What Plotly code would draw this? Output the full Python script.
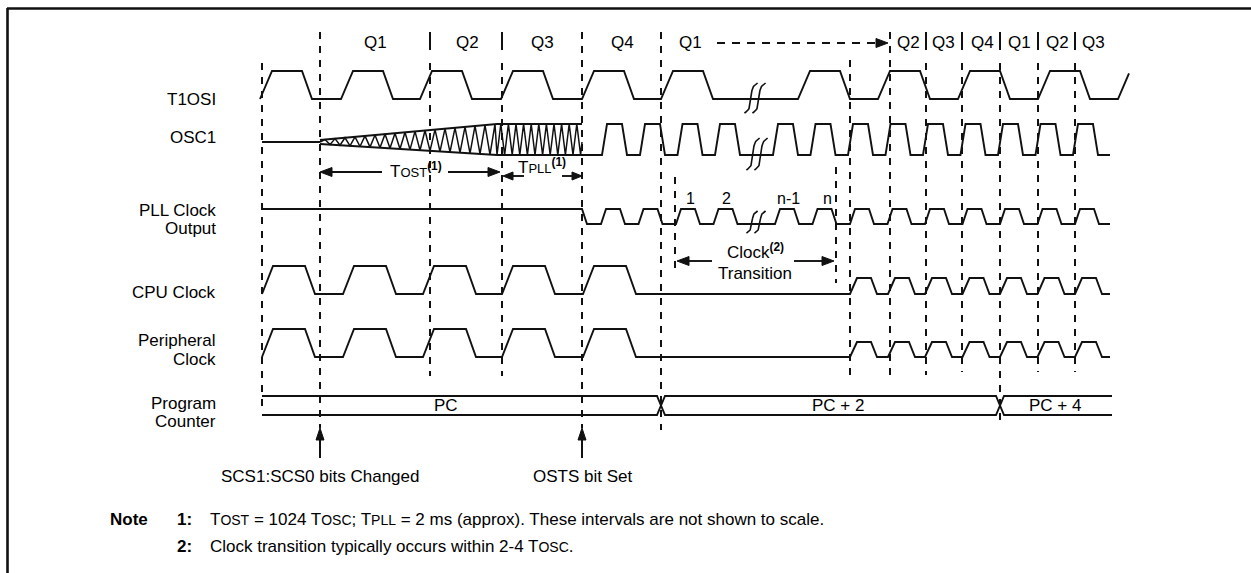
import plotly.graph_objects as go

# ---------------- data (timing diagram, x = time in drawing units) ----------------
quarter_labels = ["Q1", "Q2", "Q3", "Q4", "Q1", "Q2", "Q3", "Q4", "Q1", "Q2", "Q3"]
quarter_centers = [375, 467, 542, 622, 690, 908, 943, 982, 1019, 1057, 1093]

signal_names = ["T1OSI", "OSC1", "PLL Clock", "Output", "CPU Clock",
                "Peripheral", "Clock", "Program", "Counter"]
signal_name_y = [99, 137, 210, 228, 292, 340, 359, 403, 421]

t1osi_rise_t = [260, 341, 420, 501, 582, 661, 798, 878, 958, 1038, 1118]
osc1_rise_t = [602, 640, 677.5, 715, 773, 810.5, 848, 885.5, 923, 960.5, 998, 1035.5, 1073]
pll_rise_t = [601, 638.5, 676, 713.5, 775, 812.5, 850, 887.5, 925, 962.5, 1000, 1037.5, 1075]
cpu_slow_rise_t = [262, 343, 423, 502, 583]
cpu_fast_rise_t = [850, 888, 925, 962.5, 1000, 1037.5, 1075]
periph_slow_rise_t = [262, 343, 423, 502, 583]
periph_fast_rise_t = [850, 888, 925, 962.5, 1000, 1037.5, 1075]

pc_values = ["PC", "PC + 2", "PC + 4"]
pc_change_t = [262, 661, 1000, 1112]
pc_label_t = [446, 838, 1055]

# event markers (time, from, to, solid cap at top)
marker_t = [262, 320, 430, 502, 582, 661, 675, 836, 850, 890, 926, 962, 1000, 1038, 1075]
marker_from = [63, 32, 63, 63, 32, 32, 177, 167, 60, 32, 63, 63, 63, 63, 63]
marker_to = [407, 428, 376, 376, 428, 430, 270, 283, 375, 375, 375, 372, 420, 372, 372]
marker_cap = [False, False, True, True, False, False, False, False, False, False, True, True, True, True, True]

osc_start_t = 320      # SCS1:SCS0 bits changed
osc_stable_t = 497     # end of TOST
pll_lock_t = 582       # OSTS bit set
break_t = [755]        # time-break symbol position

pulse_numbers = ["1", "2", "n-1", "n"]
pulse_number_t = [690, 726, 788, 827]

event_names = ["SCS1:SCS0 bits Changed", "OSTS bit Set"]
event_t = [320, 582]

# ---------------- drawing helpers ----------------
FONT = "Liberation Sans, Arial, sans-serif"
INK = "#111111"
LW = 1.9

fig = go.Figure()


def add_line(xs, ys, width=LW, dash=None, fill=None):
    fig.add_trace(go.Scatter(
        x=xs, y=ys, mode="lines",
        line=dict(color=INK, width=width, dash=dash),
        fill=fill, fillcolor=INK if fill else None,
        hoverinfo="skip", showlegend=False))


def clock_wave(rises, start, end, lo, hi, tr, th, tf):
    pts = [(start, lo)]
    for r in rises:
        pts += [(r, lo), (r + tr, hi), (r + tr + th, hi), (r + tr + th + tf, lo)]
    pts.append((end, lo))
    xs, ys = [], []
    for i, (x, y) in enumerate(pts):
        if x <= end:
            xs.append(x)
            ys.append(y)
        else:
            px, py = pts[i - 1]
            if px < end:
                f = (end - px) / (x - px)
                xs.append(end)
                ys.append(py + f * (y - py))
            break
    return xs, ys


def arrowhead(tx, ty, direction, L=12, W=4.5):
    if direction == "left":
        xs, ys = [tx, tx + L, tx + L, tx], [ty, ty - W, ty + W, ty]
    elif direction == "right":
        xs, ys = [tx, tx - L, tx - L, tx], [ty, ty - W, ty + W, ty]
    else:  # up (screen up = smaller y)
        xs, ys = [tx, tx - W, tx + W, tx], [ty, ty + L, ty + L, ty]
    add_line(xs, ys, width=1, fill="toself")


def break_mark(xc, yc, h=30, w=5.0):
    for dx in (-4, 4):
        xs, ys = [], []
        n = 40
        for i in range(n + 1):
            t = i / n
            u = 1 - 2 * t
            ys.append(yc - h / 2 + h * t)
            xs.append(xc + dx + w * (u ** 5) + 1.6 * u)
        add_line(xs, ys, width=1.6)


def text(x, y, s, size=17, xanchor="center", bold=False, yanchor="middle"):
    fig.add_annotation(x=x, y=y, text=("<b>%s</b>" % s) if bold else s,
                       xref="x", yref="y", showarrow=False,
                       xanchor=xanchor, yanchor=yanchor,
                       font=dict(family=FONT, size=size, color="#000"))


# ---------------- frame ----------------
add_line([7, 1251], [8.5, 8.5], width=2.6)
add_line([7.5, 7.5], [8, 573], width=2.6)

# ---------------- quarter labels & event markers ----------------
for lab, x in zip(quarter_labels, quarter_centers):
    text(x, 42, lab, size=17)

for t, y0, y1, cap in zip(marker_t, marker_from, marker_to, marker_cap):
    if cap:
        add_line([t, t], [32, 50], width=2)
    add_line([t, t], [y0, y1], width=2, dash="7px,7px")

# dashed "continues" arrow after Q1
add_line([717, 876], [43, 43], width=2, dash="8px,7px")
arrowhead(888, 43, "right")

# ---------------- T1OSI ----------------
x, y = clock_wave(t1osi_rise_t, 260, 1129, 99, 71, 12, 30, 10)
add_line(x, y)

# ---------------- OSC1 ----------------
add_line([262, osc_start_t], [142, 142])
span = osc_stable_t - osc_start_t


def env_top(xx):
    return 140 + (124 - 140) * (xx - osc_start_t) / span


def env_bot(xx):
    return 144 + (155 - 144) * (xx - osc_start_t) / span


add_line([osc_start_t, osc_stable_t, pll_lock_t], [140, 124, 124])
add_line([osc_start_t, osc_stable_t, 602], [144, 155, 155])
zx, zy = [osc_start_t], [142]
k = 1
xx = osc_start_t + 5
while xx < osc_stable_t:
    zx.append(xx)
    zy.append(env_top(xx) if k % 2 else env_bot(xx))
    k += 1
    xx += 5
zx.append(osc_stable_t)
zy.append(155)
xx = osc_stable_t + 3.8
k = 1
while xx < pll_lock_t:
    zx.append(xx)
    zy.append(124 if k % 2 else 155)
    k += 1
    xx += 3.8
zx.append(pll_lock_t)
zy.append(142 if zy[-1] == 155 else 150)
add_line(zx, zy, width=1.5)

x, y = clock_wave(osc1_rise_t, pll_lock_t, 1110, 155, 124, 5, 15, 5)
add_line(x, y)

# ---------------- PLL clock output ----------------
x, y = clock_wave(pll_rise_t, 587, 1110, 224, 209, 5, 14, 5)
add_line([261, pll_lock_t] + x, [209, 209] + y)

# ---------------- CPU clock ----------------
x1, y1 = clock_wave(cpu_slow_rise_t, 262, 850, 294, 266, 11, 32, 10)
x2, y2 = clock_wave(cpu_fast_rise_t, 850, 1110, 294, 278, 7, 14, 6)
add_line(x1 + x2, y1 + y2)

# ---------------- Peripheral clock ----------------
x1, y1 = clock_wave(periph_slow_rise_t, 262, 850, 357, 329, 11, 32, 10)
x2, y2 = clock_wave(periph_fast_rise_t, 850, 1110, 357, 342, 7, 14, 6)
add_line(x1 + x2, y1 + y2)

# ---------------- breaks ----------------
for b in break_t:
    break_mark(b, 98, h=30)
    break_mark(b + 2, 154, h=32)
    break_mark(b + 1, 222, h=22, w=4.0)

# ---------------- program counter bus ----------------
top, bot, hw = 396, 415, 4
ax, ay, bx, by = [pc_change_t[0]], [top], [pc_change_t[0]], [bot]
for c in pc_change_t[1:-1]:
    ax += [c - hw, c + hw]
    bx += [c - hw, c + hw]
    if ay[-1] == top:
        ay += [top, bot]
        by += [bot, top]
    else:
        ay += [bot, top]
        by += [top, bot]
ax.append(pc_change_t[-1])
ay.append(ay[-1])
bx.append(pc_change_t[-1])
by.append(by[-1])
add_line(ax, ay)
add_line(bx, by)
for v, t in zip(pc_values, pc_label_t):
    text(t, 405, v, size=17)

# ---------------- interval annotations ----------------
sc = "<span style='font-size:13px'>%s</span>"
sc2 = "<span style='font-size:14px'>%s</span>"
# TOST
add_line([332, 382], [172, 172])
arrowhead(320, 172, "left")
add_line([448, 488], [172, 172])
arrowhead(500, 172, "right")
text(416, 170, "T" + sc % "OST" + "<sup><b>(1)</b></sup>", size=17)
# TPLL
add_line([513, 524], [176, 176])
arrowhead(503, 176, "left", L=10, W=4)
add_line([562, 572], [176, 176])
arrowhead(582, 176, "right", L=10, W=4)
text(542, 166, "T" + sc % "PLL" + "<sup><b>(1)</b></sup>", size=17)
# clock transition
add_line([689, 712], [261, 261])
arrowhead(677, 261, "left")
add_line([794, 822], [261, 261])
arrowhead(834, 261, "right")
text(755, 251, "Clock<sup><b>(2)</b></sup>", size=17)
text(755, 273, "Transition", size=17)
for s, t in zip(pulse_numbers, pulse_number_t):
    text(t, 198, s, size=16)

# ---------------- event arrows ----------------
for s, t in zip(event_names, event_t):
    add_line([t, t], [438, 458], width=2)
    arrowhead(t, 428, "up", L=12, W=4)
    text(t, 476, s, size=17)

# ---------------- signal names ----------------
for s, yv in zip(signal_names, signal_name_y):
    text(218, yv, s, size=17, xanchor="right")

# ---------------- notes ----------------
text(108, 519, "Note", size=17, xanchor="left", bold=True)
text(175, 519, "1:", size=17, xanchor="left", bold=True)
text(208, 519, "T" + sc2 % "OST" + " = 1024 T" + sc2 % "OSC" + "; T" + sc2 % "PLL"
     + " = 2 ms (approx). These intervals are not shown to scale.", size=17, xanchor="left")
text(175, 546, "2:", size=17, xanchor="left", bold=True)
text(208, 546, "Clock transition typically occurs within 2-4 T" + sc2 % "OSC" + ".",
     size=17, xanchor="left")

fig.update_layout(
    width=1251, height=573,
    margin=dict(l=0, r=0, t=0, b=0),
    paper_bgcolor="white", plot_bgcolor="white",
    xaxis=dict(range=[0, 1251], visible=False, fixedrange=True),
    yaxis=dict(range=[573, 0], visible=False, fixedrange=True),
    showlegend=False,
)
fig.write_html("out.html", config={"displayModeBar": False},
               post_script="document.body.style.margin='0';document.body.style.overflow='hidden';")
